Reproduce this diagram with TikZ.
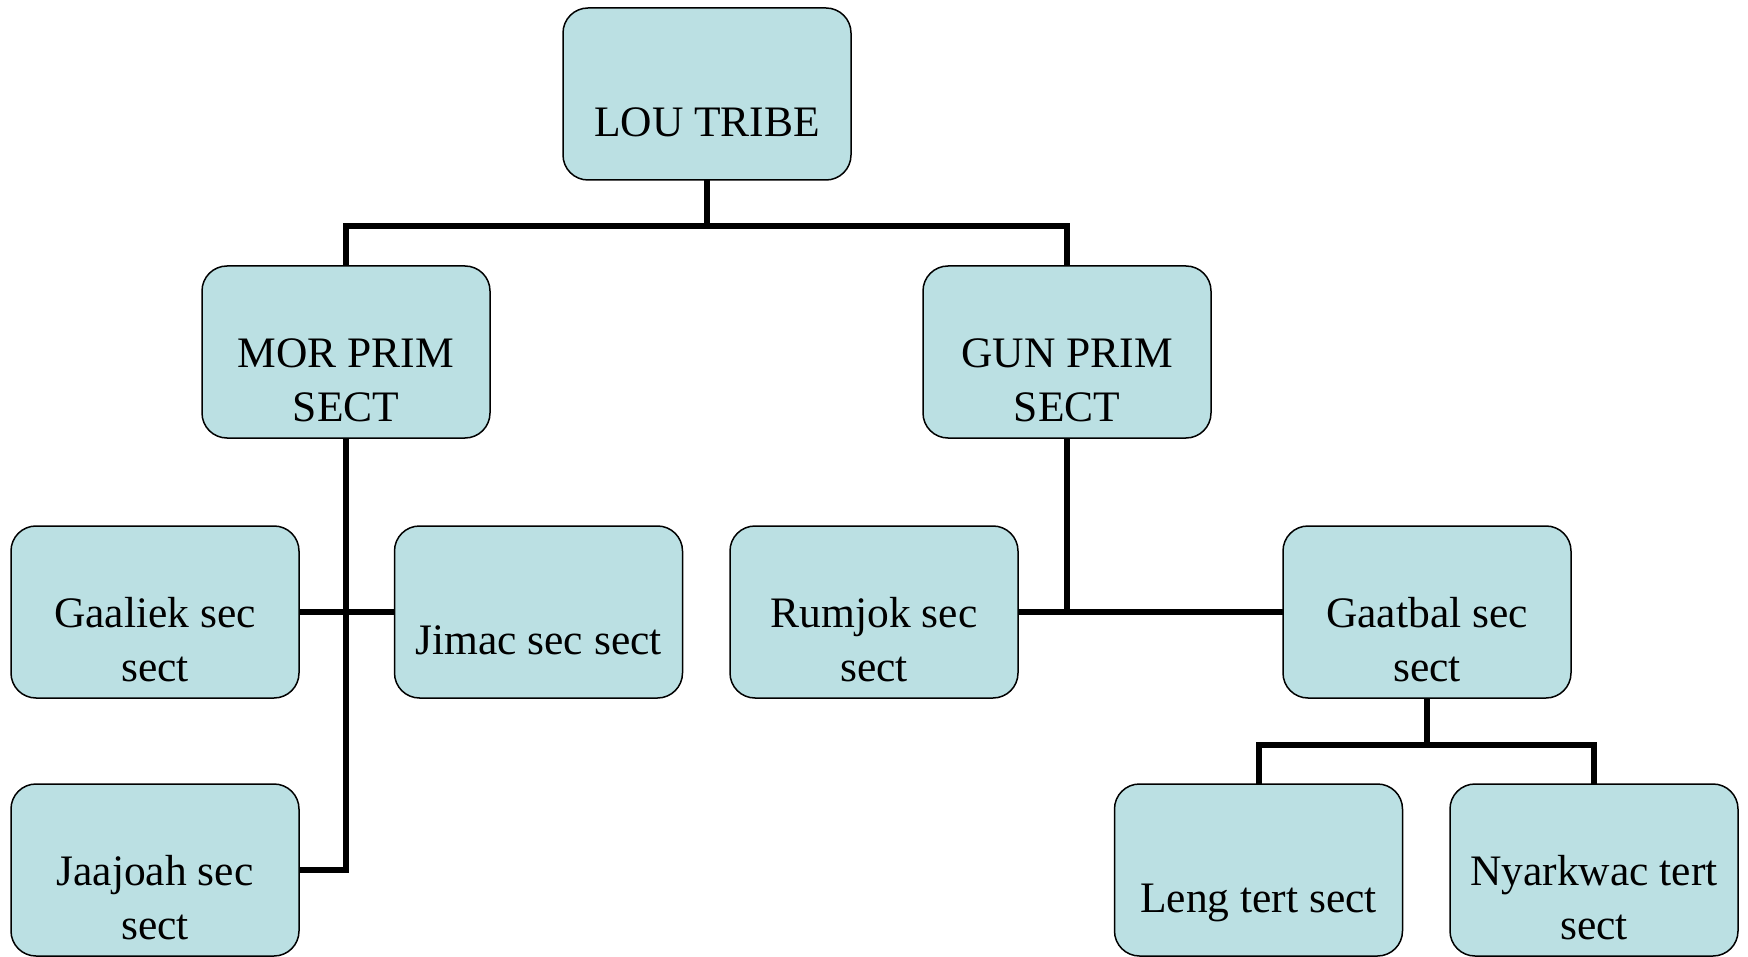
\documentclass[tikz,border=0pt]{standalone}
\usepackage{fontspec}
\setmainfont{Liberation Serif}
\definecolor{boxfill}{RGB}{187,224,227}
\begin{document}
\begin{tikzpicture}[x=1pt,y=-1pt,
  orgbox/.style={draw=black, line width=1.5pt, fill=boxfill, rounded corners=25pt,
    minimum width=288pt, minimum height=172pt, inner sep=0pt, outer sep=0pt},
  orgtext/.style={align=center, inner sep=0pt, font=\fontsize{43.5}{54}\selectfont},
  link/.style={line width=6pt, draw=black}]
\useasboundingbox (0,0) rectangle (1748,957);
% boxes
\node[orgbox] (lou) at (707,94) {};
\node[orgbox] (mor) at (346,352) {};
\node[orgbox] (gun) at (1067,352) {};
\node[orgbox] (gaa) at (155,612) {};
\node[orgbox] (jim) at (538.5,612) {};
\node[orgbox] (rum) at (874,612) {};
\node[orgbox] (gaat) at (1427,612) {};
\node[orgbox] (jaa) at (155,870) {};
\node[orgbox] (leng) at (1258.5,870) {};
\node[orgbox] (nyar) at (1594,870) {};
% texts
\node[orgtext] (lout) at ([yshift=-32pt]lou.center) {\strut LOU TRIBE};
\node[orgtext] (mort) at ([yshift=-32pt]mor.center) {\strut MOR PRIM\\\strut SECT};
\node[orgtext] (gunt) at ([yshift=-32pt]gun.center) {\strut GUN PRIM\\\strut SECT};
\node[orgtext] (gaat1) at ([yshift=-32pt]gaa.center) {\strut Gaaliek sec\\\strut sect};
\node[orgtext] (jimt) at ([yshift=-32pt]jim.center) {\strut Jimac sec sect};
\node[orgtext] (rumt) at ([yshift=-32pt]rum.center) {\strut Rumjok sec\\\strut sect};
\node[orgtext] (gaatt) at ([yshift=-32pt]gaat.center) {\strut Gaatbal sec\\\strut sect};
\node[orgtext] (jaat) at ([yshift=-32pt]jaa.center) {\strut Jaajoah sec\\\strut sect};
\node[orgtext] (lengt) at ([yshift=-32pt]leng.center) {\strut Leng tert sect};
\node[orgtext] (nyart) at ([yshift=-32pt]nyar.center) {\strut Nyarkwac tert\\\strut sect};
% junction coordinates
\coordinate (bar1) at (707,226);
\coordinate (bar2) at (1427,745);
% connectors
\draw[link] (lou.south) -- (bar1);
\draw[link] (mor.north) |- (bar1) -| (gun.north);
\draw[link] (mor.south) |- (jaa.east);
\draw[link] (gaa.east) -- (jim.west);
\draw[link] (gun.south) -- (gun.south |- rum.east);
\draw[link] (rum.east) -- (gaat.west);
\draw[link] (gaat.south) -- (bar2);
\draw[link] (leng.north) |- (bar2) -| (nyar.north);
\end{tikzpicture}
\end{document}
